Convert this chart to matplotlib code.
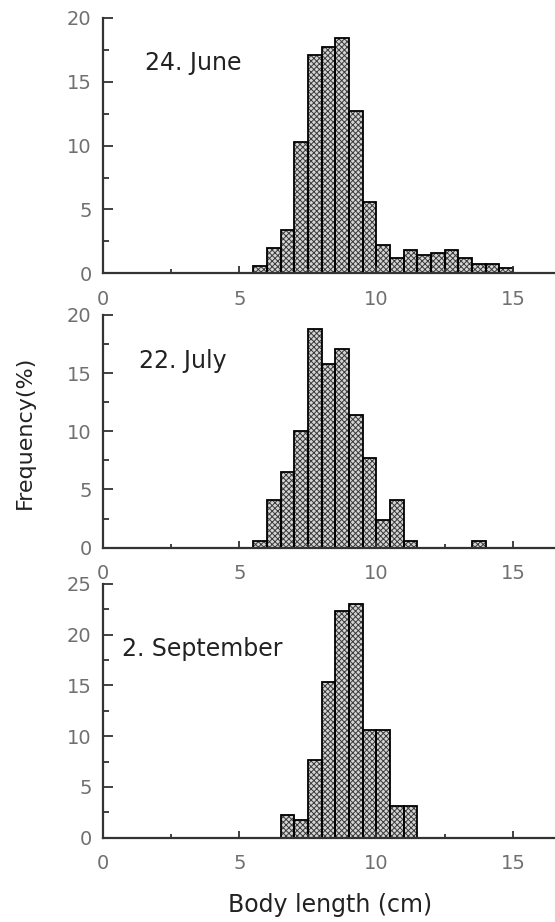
import matplotlib.pyplot as plt
from matplotlib.ticker import MultipleLocator

# body length bins (left edge, cm) and frequency (%) per sampling date
june_bins = [5.5, 6.0, 6.5, 7.0, 7.5, 8.0, 8.5, 9.0, 9.5, 10.0,
             10.5, 11.0, 11.5, 12.0, 12.5, 13.0, 13.5, 14.0, 14.5]
june_freq = [0.6, 2.0, 3.4, 10.3, 17.1, 17.7, 18.4, 12.7, 5.6, 2.2,
             1.2, 1.8, 1.4, 1.6, 1.8, 1.2, 0.7, 0.7, 0.4]

july_bins = [5.5, 6.0, 6.5, 7.0, 7.5, 8.0, 8.5, 9.0, 9.5, 10.0, 10.5, 11.0, 13.5]
july_freq = [0.6, 4.1, 6.5, 10.0, 18.8, 15.8, 17.1, 11.4, 7.7, 2.4, 4.1, 0.6, 0.6]

sept_bins = [6.5, 7.0, 7.5, 8.0, 8.5, 9.0, 9.5, 10.0, 10.5, 11.0]
sept_freq = [2.2, 1.7, 7.7, 15.3, 22.3, 23.0, 10.6, 10.6, 3.1, 3.1]

labels = ["24. June", "22. July", "2. September"]

fig = plt.figure(figsize=(5.55, 9.22), dpi=100)

# [left, bottom, width, height], ymax, label position
panels = [
    ([0.185, 0.7036, 0.815, 0.2769], 20, (1.55, 16.5)),
    ([0.185, 0.4060, 0.815, 0.2524], 20, (1.33, 16.0)),
    ([0.185, 0.0914, 0.815, 0.2752], 25, (0.70, 18.6)),
]
series = [(june_bins, june_freq), (july_bins, july_freq), (sept_bins, sept_freq)]

plt.rcParams['hatch.linewidth'] = 0.7

for (rect, ymax, lpos), (bins, freq), lab in zip(panels, series, labels):
    ax = fig.add_axes(rect)
    ax.patch.set_alpha(0)
    # hatched fill, then black outlines on top
    ax.bar(bins, freq, width=0.5, align='edge', color='#d4d4d4',
           edgecolor='#3a3a3a', hatch='xxxxxx', linewidth=0)
    ax.bar(bins, freq, width=0.5, align='edge', fill=False,
           edgecolor='black', linewidth=1.3)
    ax.set_xlim(0, 16.53)
    ax.set_ylim(0, ymax)
    ax.spines['top'].set_visible(False)
    ax.spines['right'].set_visible(False)
    for s in ('left', 'bottom'):
        ax.spines[s].set_linewidth(1.6)
        ax.spines[s].set_color('#333333')
    ax.xaxis.set_major_locator(MultipleLocator(5))
    ax.xaxis.set_minor_locator(MultipleLocator(2.5))
    ax.yaxis.set_major_locator(MultipleLocator(5))
    ax.yaxis.set_minor_locator(MultipleLocator(2.5))
    ax.tick_params(which='both', direction='in', color='#333333', width=1.3,
                   labelsize=14, labelcolor='#707070')
    ax.tick_params(axis='y', which='major', length=7, pad=8)
    ax.tick_params(axis='y', which='minor', length=4)
    ax.tick_params(axis='x', which='major', length=5, pad=12)
    ax.tick_params(axis='x', which='minor', length=3)
    ax.text(lpos[0], lpos[1], lab, fontsize=17, color='#222222', va='center', ha='left')

fig.text(0.045, 0.531, "Frequency(%)", rotation=90, fontsize=16,
         ha='center', va='center', color='#222222')
fig.text(0.595, 0.018, "Body length (cm)", fontsize=17,
         ha='center', va='center', color='#222222')

fig.savefig("out.png", dpi=100)
